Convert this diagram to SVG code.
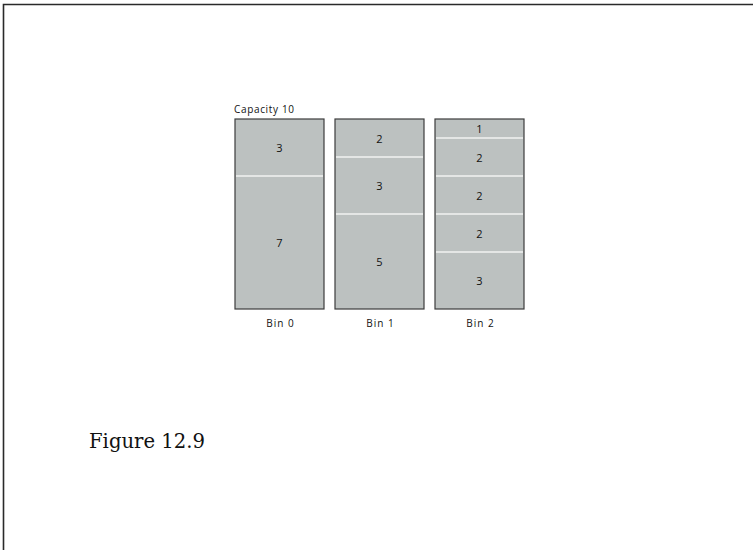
<svg xmlns="http://www.w3.org/2000/svg" width="753" height="550" viewBox="0 0 753 550">
<style>
.bin{fill:#bcc1c0;stroke:#3c3c3c;stroke-width:1.2}
.sep{stroke:#f2f2f2;stroke-width:1.5}
.num{font-family:"Open Sans","Liberation Sans",sans-serif;font-size:11px;fill:#111;text-anchor:middle;dominant-baseline:central}
.lbl{font-family:"Open Sans","Liberation Sans",sans-serif;font-size:10px;fill:#111;letter-spacing:1px}
.frame{stroke:#2a2a2a;stroke-width:1.6;fill:none}
</style>
<rect width="753" height="550" fill="#ffffff"/>
<path class="frame" d="M3.5 550 V4.5 H753"/>
<g id="capacity"><text class="lbl" x="234" y="113" textLength="61">Capacity 10</text></g>
<g id="bin0">
<rect class="bin" x="235" y="119" width="89" height="190"/>
<line class="sep" x1="236" y1="176" x2="323" y2="176"/>
<text class="num" x="279.5" y="147.5">3</text>
<text class="num" x="279.5" y="242.5">7</text>
<text class="lbl" x="280.5" y="327" text-anchor="middle">Bin 0</text>
</g>
<g id="bin1">
<rect class="bin" x="335" y="119" width="89" height="190"/>
<line class="sep" x1="336" y1="157" x2="423" y2="157"/>
<line class="sep" x1="336" y1="214" x2="423" y2="214"/>
<text class="num" x="379.5" y="138">2</text>
<text class="num" x="379.5" y="185.5">3</text>
<text class="num" x="379.5" y="261.5">5</text>
<text class="lbl" x="380.5" y="327" text-anchor="middle">Bin 1</text>
</g>
<g id="bin2">
<rect class="bin" x="435" y="119" width="89" height="190"/>
<line class="sep" x1="436" y1="138" x2="523" y2="138"/>
<line class="sep" x1="436" y1="176" x2="523" y2="176"/>
<line class="sep" x1="436" y1="214" x2="523" y2="214"/>
<line class="sep" x1="436" y1="252" x2="523" y2="252"/>
<text class="num" x="479.5" y="128.5">1</text>
<text class="num" x="479.5" y="157">2</text>
<text class="num" x="479.5" y="195">2</text>
<text class="num" x="479.5" y="233">2</text>
<text class="num" x="479.5" y="280.5">3</text>
<text class="lbl" x="480.5" y="327" text-anchor="middle">Bin 2</text>
</g>
<g id="connectors"></g>
<g id="caption"><text x="89" y="448" font-family="DejaVu Serif, serif" font-size="21" fill="#111" textLength="116" lengthAdjust="spacingAndGlyphs">Figure 12.9</text></g>
</svg>
